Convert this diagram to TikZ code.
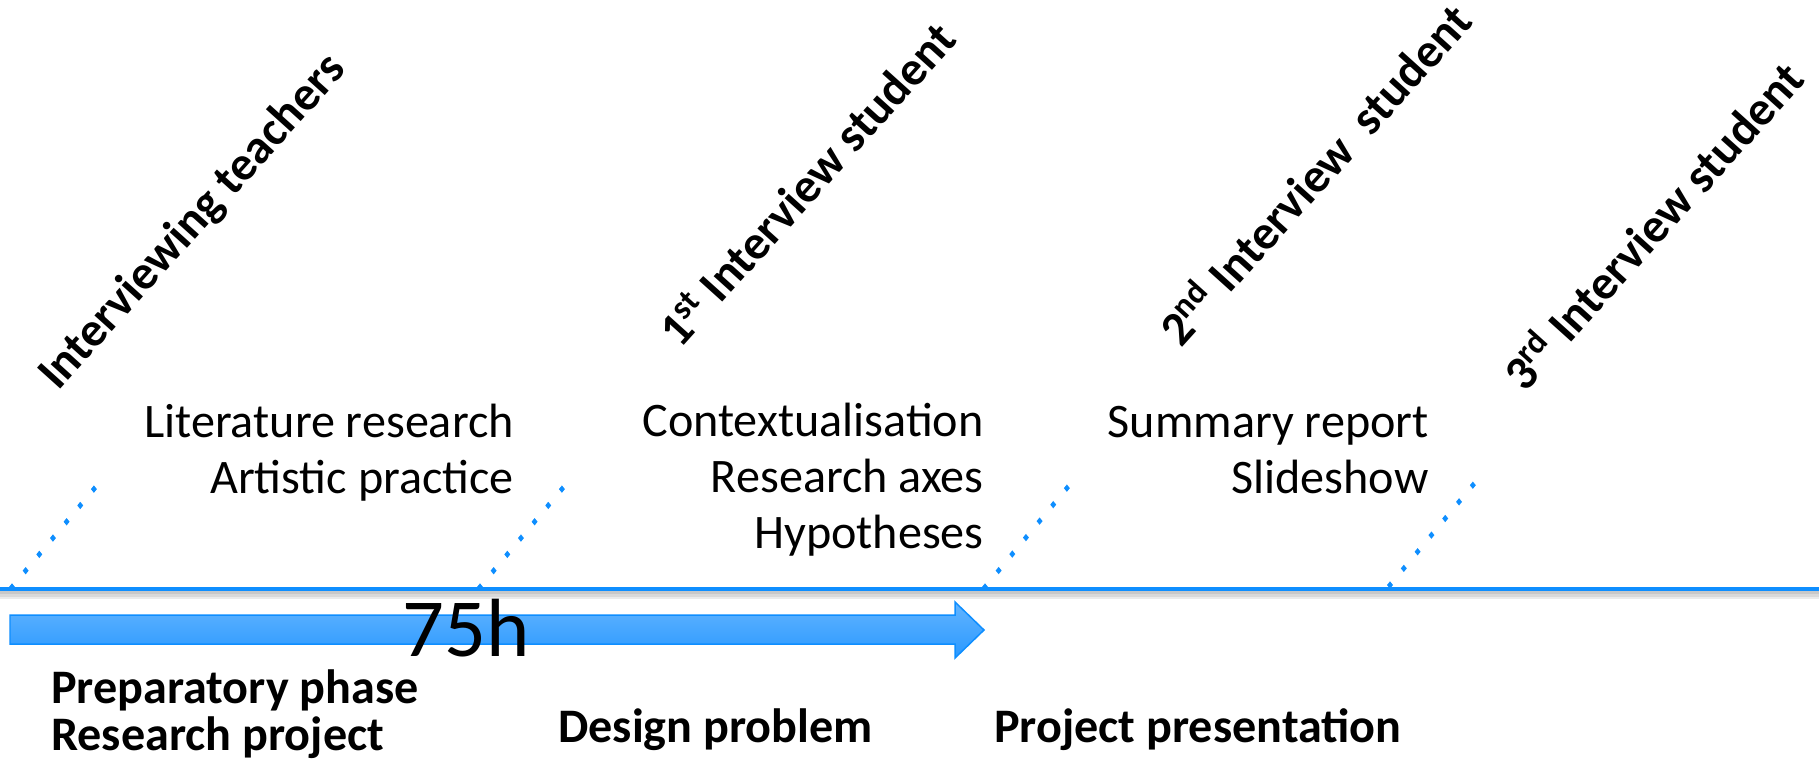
\documentclass[tikz,border=0pt]{standalone}
\usepackage{fontspec}
\setmainfont{Carlito}
\usepackage{tikz}
\usetikzlibrary{calc, decorations.markings}

\definecolor{timeblue}{RGB}{14,142,255}
\definecolor{arrowtop}{RGB}{98,180,255}
\definecolor{arrowbot}{RGB}{42,152,255}

\begin{document}
\begin{tikzpicture}[x=0.02cm, y=-0.02cm,
    task/.style={font=\fontsize{27.4}{33}\selectfont, inner sep=0pt, anchor=base east},
    phase/.style={font=\fontsize{27.4}{33}\selectfont\bfseries, inner sep=0pt, anchor=base west},
    meeting/.style={font=\fontsize{27.4}{33}\selectfont\bfseries, inner sep=0pt, anchor=base west, rotate=48},
    dotline/.style={postaction={decorate}, decoration={markings,
        mark=between positions 0 and 1 step 0.1666 with {\pgftransformresetnontranslations
        \fill[timeblue] (0,2.1pt) -- (1.7pt,0) -- (0,-2.1pt) -- (-1.7pt,0) -- cycle;}}}]
    \useasboundingbox (0,0) rectangle (1819,765);
    \pgfmathsetmacro{\lineY}{589}
    \pgfmathsetmacro{\gap}{56}

    % time line with soft shadow
    \coordinate (start) at (0,\lineY);
    \coordinate (end) at (1819,\lineY);
    \foreach \s/\w in {5/0.2, 4/0.14, 3/0.09}{
        \draw[black, opacity=0.08, line width=\w cm] ($(start)+(0,\s)$) -- ($(end)+(0,\s)$);
    }
    \draw[timeblue, line width=0.08cm] (start) -- (end);

    % dotted ticks
    \foreach \name/\bx/\by/\tx/\ty in {a/12/587/94/489, b/480/587/562/489, c/985/587/1067/488, d/1390/585/1473/485}{
        \coordinate (b\name) at (\bx,\by);
        \coordinate (t\name) at (\tx,\ty);
        \path[dotline] (b\name) -- (t\name);
    }

    % 75h arrow
    \shade[top color=arrowtop, bottom color=arrowbot, draw=timeblue, line width=0.03cm]
        (10,615) -- (955,615) -- (955,602) -- (984,630) -- (955,658) -- (955,644) -- (10,644) -- cycle;
    \node[font=\fontsize{47}{56}\selectfont, inner sep=0pt, anchor=base west] (hours) at (402,656) {75h};

    % interviews
    \node[meeting] (teachers) at (58,392) {Interviewing teachers};
    \node[meeting] (first) at (680,350) {1\textsuperscript{st} Interview student};
    \node[meeting] (second) at (1181,349) {2\textsuperscript{nd} Interview~ student};
    \node[meeting] (third) at (1525,394) {3\textsuperscript{rd} Interview student};

    % tasks between interviews
    \node[task] (lit) at (514,437) {Literature research};
    \node[task] (art) at ([yshift=-\gap*0.02cm]lit.base east) {Artistic practice};
    \node[task] (context) at (984,436) {Contextualisation};
    \node[task] (axes) at ([yshift=-\gap*0.02cm]context.base east) {Research axes};
    \node[task] (hypo) at ([yshift=-\gap*0.02cm]axes.base east) {Hypotheses};
    \node[task] (summary) at (1429,437) {Summary report};
    \node[task] (slides) at ([yshift=-\gap*0.02cm]summary.base east) {Slideshow};

    % phases
    \node[phase] (prep) at (51,703) {Preparatory phase};
    \node[phase] (project) at ([yshift=-47*0.02cm]prep.base west) {Research project};
    \node[phase] (design) at (558,742) {Design problem};
    \node[phase] (present) at (994,742) {Project presentation};
\end{tikzpicture}
\end{document}
